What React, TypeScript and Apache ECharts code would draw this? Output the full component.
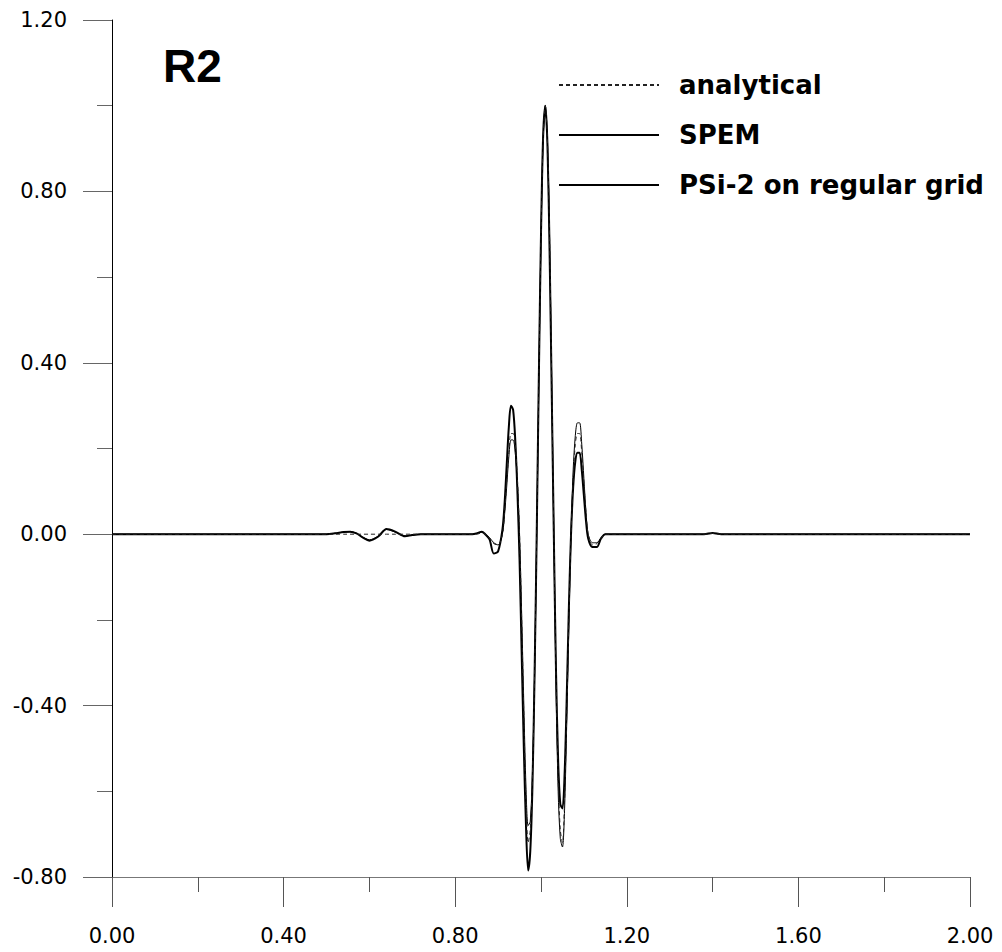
import React, { useEffect, useRef } from "react";
import * as echarts from "echarts";

const seriesNames = ["analytical", "SPEM", "PSi-2 on regular grid"];
const titleText = "R2";

// x positions (shared by every series)
const xs = [
  0, 0.2, 0.4, 0.5, 0.52, 0.54, 0.555, 0.57, 0.585, 0.6, 0.62, 0.64, 0.66, 0.683, 0.7, 0.72, 0.76, 0.8, 0.84, 0.85, 0.862,
  0.87, 0.88, 0.89, 0.9, 0.91, 0.915, 0.92, 0.925, 0.93, 0.935, 0.94, 0.945, 0.95, 0.955, 0.96, 0.965, 0.97, 0.975, 0.98,
  0.985, 0.99, 0.995, 1.0, 1.005, 1.01, 1.015, 1.02, 1.025, 1.03, 1.035, 1.04, 1.045, 1.05, 1.055, 1.06, 1.065, 1.07,
  1.075, 1.08, 1.085, 1.09, 1.095, 1.1, 1.105, 1.11, 1.12, 1.13, 1.14, 1.15,
  1.17, 1.2, 1.3, 1.38, 1.4, 1.42, 1.5, 1.6, 1.8, 2.0,
];

const analytical = [
  0, 0, 0, 0, 0, 0, 0, 0, 0, 0, 0, 0, 0, 0, 0, 0, 0, 0, 0, 0, 0.003,
  0, -0.01, -0.022, -0.025, 0, 0.05, 0.12, 0.19, 0.235, 0.235, 0.21, 0.13, 0, -0.2, -0.42, -0.62, -0.72, -0.69, -0.57,
  -0.33, 0, 0.36, 0.69, 0.92, 1.0, 0.92, 0.69, 0.36, 0, -0.33, -0.57, -0.69, -0.72, -0.62, -0.42, -0.2, 0,
  0.13, 0.21, 0.235, 0.235, 0.19, 0.12, 0.05, 0, -0.025, -0.022, -0.01, 0,
  0, 0, 0, 0, 0.002, 0, 0, 0, 0, 0,
];

const spem = [
  0, 0, 0, 0, 0.002, 0.005, 0.006, 0.002, -0.007, -0.013, -0.005, 0.011, 0.005, -0.004, -0.002, 0, 0, 0, 0, 0.002, 0.005,
  0, -0.008, -0.02, -0.025, 0, 0.045, 0.11, 0.18, 0.22, 0.22, 0.19, 0.12, 0, -0.19, -0.4, -0.59, -0.68, -0.67, -0.56,
  -0.33, 0, 0.36, 0.69, 0.92, 1.0, 0.92, 0.69, 0.35, -0.01, -0.35, -0.6, -0.71, -0.73, -0.64, -0.44, -0.21, 0,
  0.15, 0.23, 0.26, 0.26, 0.21, 0.13, 0.05, 0, -0.02, -0.02, -0.008, 0,
  0, 0, 0, 0, 0.002, 0, 0, 0, 0, 0,
];

const psi2 = [
  0, 0, 0, 0, 0.002, 0.005, 0.006, 0.002, -0.008, -0.015, -0.006, 0.012, 0.006, -0.005, -0.002, 0, 0, 0, 0, 0.002, 0.006,
  0, -0.012, -0.045, -0.04, 0.01, 0.07, 0.16, 0.25, 0.3, 0.29, 0.22, 0.1, -0.06, -0.28, -0.5, -0.68, -0.785, -0.74, -0.59,
  -0.33, 0, 0.37, 0.7, 0.93, 1.0, 0.91, 0.66, 0.33, -0.01, -0.32, -0.53, -0.63, -0.64, -0.56, -0.38, -0.17, 0,
  0.11, 0.17, 0.19, 0.19, 0.15, 0.09, 0.03, -0.01, -0.03, -0.03, -0.01, 0,
  0, 0, 0, 0, 0.003, 0, 0, 0, 0, 0,
];

const xMin = 0, xMax = 2, xStep = 0.4;
const yMin = -0.8, yMax = 1.2, yStep = 0.4;

const TITLE_FONT = "'Liberation Sans', Arial, sans-serif";
const FONT = "'DejaVu Sans', sans-serif";

export default function App() {
  const ref = useRef<HTMLDivElement>(null);
  useEffect(() => {
    document.body.style.margin = "0";
    if (!ref.current) return;
    const chart = echarts.init(ref.current, null, { renderer: "svg" });
    const zip = (ys: number[]) => xs.map((x, i) => [x, ys[i]]);
    chart.setOption({
      animation: false,
      backgroundColor: "#fff",
      textStyle: { fontFamily: FONT },
      title: {
        text: titleText,
        left: 163,
        top: 43,
        padding: 0,
        textStyle: { fontSize: 46, fontWeight: "bold", color: "#000", fontFamily: TITLE_FONT },
      },
      legend: {
        orient: "vertical",
        left: 558,
        top: 70,
        padding: 0,
        itemWidth: 100,
        itemHeight: 14,
        itemGap: 20,
        selectedMode: false,
        data: seriesNames,
        itemStyle: { opacity: 0, color: "transparent", borderWidth: 0 },
        textStyle: {
          fontSize: 26,
          fontWeight: "bold",
          color: "#000",
          fontFamily: FONT,
          lineHeight: 30,
          padding: [0, 0, 0, 15],
        },
      },
      grid: { left: 112, right: 32, top: 20, bottom: 75, containLabel: false },
      xAxis: {
        type: "value",
        min: xMin,
        max: xMax,
        interval: xStep,
        axisLine: { onZero: false, lineStyle: { color: "#777", width: 1 } },
        axisTick: { show: true, length: 30, lineStyle: { color: "#555", width: 1 } },
        minorTick: { show: true, splitNumber: 2, length: 15, lineStyle: { color: "#555", width: 1 } },
        splitLine: { show: false },
        minorSplitLine: { show: false },
        axisLabel: {
          margin: 48,
          fontSize: 21,
          color: "#000",
          fontFamily: FONT,
          formatter: (v: number) => v.toFixed(2),
        },
      },
      yAxis: {
        type: "value",
        min: yMin,
        max: yMax,
        interval: yStep,
        axisLine: { show: true, onZero: false, lineStyle: { color: "#000", width: 1 } },
        axisTick: { show: true, length: 29, lineStyle: { color: "#666", width: 1 } },
        minorTick: { show: true, splitNumber: 2, length: 15, lineStyle: { color: "#666", width: 1 } },
        splitLine: { show: false },
        minorSplitLine: { show: false },
        axisLabel: {
          margin: 45,
          fontSize: 21,
          color: "#000",
          fontFamily: FONT,
          formatter: (v: number) => v.toFixed(2),
        },
      },
      series: [
        {
          name: seriesNames[0],
          type: "line",
          data: zip(analytical),
          symbol: "none",
          smooth: 0.3,
          lineStyle: { color: "#222", width: 1, type: [4, 3] },
          itemStyle: { color: "#000" },
          z: 3,
        },
        {
          name: seriesNames[1],
          type: "line",
          data: zip(spem),
          symbol: "none",
          smooth: 0.3,
          lineStyle: { color: "#000", width: 1 },
          itemStyle: { color: "#000" },
          z: 2,
        },
        {
          name: seriesNames[2],
          type: "line",
          data: zip(psi2),
          symbol: "none",
          smooth: 0.3,
          lineStyle: { color: "#000", width: 2 },
          itemStyle: { color: "#000" },
          z: 1,
        },
      ],
    });
    return () => chart.dispose();
  }, []);
  return <div ref={ref} style={{ width: 1002, height: 952 }} />;
}
